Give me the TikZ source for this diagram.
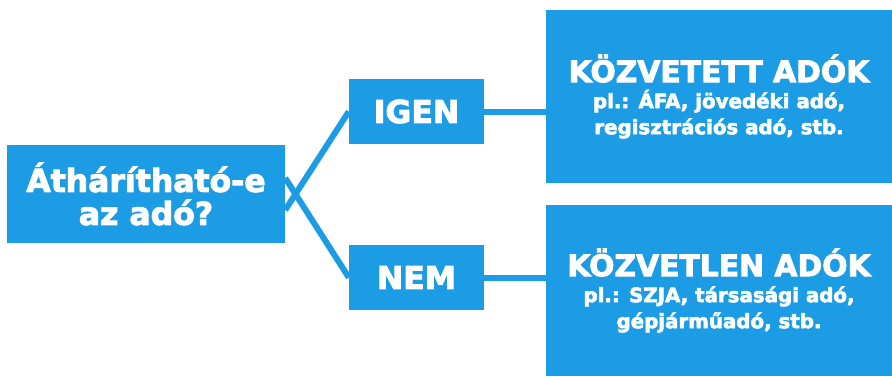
\documentclass[tikz,border=0pt]{standalone}
\usepackage{fontspec}
\setmainfont{DejaVu Sans}[BoldFeatures={FakeBold=3}]
\definecolor{adoblue}{HTML}{1B9CE5}
\begin{document}
\begin{tikzpicture}[x=1pt,y=-1pt,
		box/.style={fill=adoblue, text=white, inner sep=0pt, align=center},
		link/.style={draw=adoblue, line width=6pt}]
			\useasboundingbox (0,0) rectangle (892,376);
			
			\node[box, minimum width=278pt, minimum height=98pt, font=\fontsize{31.5}{33}\selectfont\bfseries] (q) at (146,194) {Áthárítható-e\\az adó?};
			\node[box, minimum width=135pt, minimum height=65pt, font=\fontsize{31.5}{33}\selectfont\bfseries] (igen) at (416.5,111.5) {IGEN};
			\node[box, minimum width=135pt, minimum height=65pt, font=\fontsize{31.5}{33}\selectfont\bfseries] (nem) at (416.5,277.5) {NEM};
			
			\node[box, minimum width=346pt, minimum height=173pt, font=\fontsize{19.8}{26}\selectfont\bfseries] (kozvetett) at (719,96.5) {{\fontsize{29.8}{26}\selectfont KÖZVETETT ADÓK}\\pl.: ÁFA, jövedéki adó,\\regisztrációs adó, stb.};
			\node[box, minimum width=346pt, minimum height=171pt, font=\fontsize{19.8}{26}\selectfont\bfseries] (kozvetlen) at (719,290.5) {{\fontsize{29.8}{26}\selectfont KÖZVETLEN ADÓK}\\pl.: SZJA, társasági adó,\\gépjárműadó, stb.};
			
			\foreach \b/\r/\s in {igen/kozvetett/-16, nem/kozvetlen/16}{
				\draw[link] ([yshift=\s]q.east) -- (\b.west);
				\draw[link] (\b.east) -- (\b.east -| \r.west);
			}
		\end{tikzpicture}
\end{document}
